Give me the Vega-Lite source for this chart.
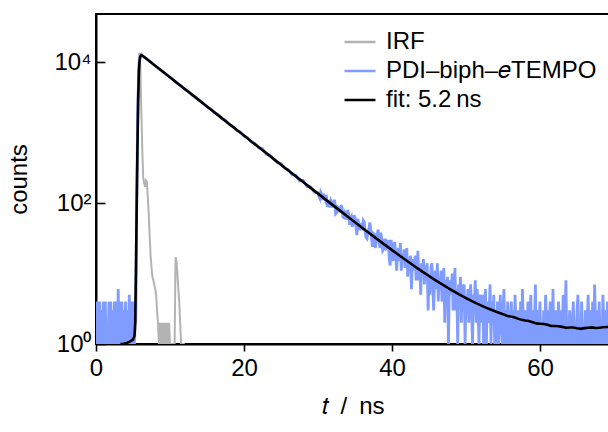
{
  "$schema": "https://vega.github.io/schema/vega-lite/v6.json",
  "width": 513,
  "height": 330,
  "autosize": "none",
  "padding": {"left": 96, "top": 14, "right": 0, "bottom": 88},
  "datasets": {
    "irf": [
      {"t":5.0,"c":0},{"t":5.25,"c":0},{"t":5.375,"c":2},{"t":5.5,"c":160},{"t":5.625,"c":2600},{"t":5.75,"c":9500},{"t":5.875,"c":13600},{"t":6.0,"c":8000},{"t":6.125,"c":2000},{"t":6.25,"c":600},{"t":6.375,"c":230},{"t":6.5,"c":195},{"t":6.625,"c":170},{"t":6.75,"c":210},{"t":6.875,"c":200},{"t":7.0,"c":120},{"t":7.125,"c":70},{"t":7.25,"c":35},{"t":7.375,"c":18},{"t":7.5,"c":12},{"t":7.625,"c":9},{"t":7.75,"c":8},{"t":7.875,"c":7},{"t":8.0,"c":6},{"t":8.125,"c":5},{"t":8.25,"c":3},{"t":8.375,"c":2},{"t":8.5,"c":0},{"t":8.625,"c":2},{"t":8.75,"c":0},{"t":8.875,"c":2},{"t":9.0,"c":0},{"t":9.125,"c":2},{"t":9.25,"c":0},{"t":9.375,"c":2},{"t":9.5,"c":0},{"t":9.625,"c":2},{"t":9.75,"c":0},{"t":9.875,"c":2},{"t":10.0,"c":0},{"t":10.5,"c":0},{"t":10.625,"c":0},{"t":10.75,"c":17},{"t":10.875,"c":15},{"t":11.0,"c":10},{"t":11.125,"c":6},{"t":11.25,"c":4},{"t":11.375,"c":2},{"t":11.5,"c":1},{"t":11.625,"c":0},{"t":12.0,"c":0}
    ],
    "dec": [
      {"t":0,"c":4},{"t":0.125,"c":0},{"t":0.25,"c":4},{"t":0.375,"c":1},{"t":0.5,"c":4},{"t":0.625,"c":0},{"t":0.75,"c":3},{"t":0.875,"c":0},{"t":1,"c":4},{"t":1.125,"c":1},{"t":1.25,"c":4},{"t":1.375,"c":0},{"t":1.5,"c":2},{"t":1.625,"c":0},{"t":1.75,"c":4},{"t":1.875,"c":1},{"t":2,"c":4},{"t":2.125,"c":0},{"t":2.25,"c":3},{"t":2.375,"c":0},{"t":2.5,"c":4},{"t":2.625,"c":1},{"t":2.75,"c":4},{"t":2.875,"c":0},{"t":3,"c":6},{"t":3.125,"c":0},{"t":3.25,"c":4},{"t":3.375,"c":1},{"t":3.5,"c":4},{"t":3.625,"c":0},{"t":3.75,"c":3},{"t":3.875,"c":0},{"t":4,"c":4},{"t":4.125,"c":1},{"t":4.25,"c":3},{"t":4.375,"c":0},{"t":4.5,"c":5},{"t":4.625,"c":0},{"t":4.75,"c":4},{"t":4.875,"c":1},{"t":5,"c":4},{"t":5.125,"c":0},{"t":5.25,"c":4},{"t":5.375,"c":2},
      {"t":5.5,"c":95},{"t":5.625,"c":1500},{"t":5.75,"c":6000},{"t":5.875,"c":10800},{"t":6,"c":12600},{"t":6.125,"c":12900},{"t":6.25,"c":12300},
      {"t":6.5,"c":11830},{"t":7,"c":10700},{"t":7.5,"c":9790},{"t":8,"c":8850},{"t":8.5,"c":8090},{"t":9,"c":7310},{"t":9.5,"c":6700},{"t":10,"c":6040},{"t":10.5,"c":5540},{"t":11,"c":4990},{"t":11.5,"c":4580},{"t":12,"c":4120},{"t":12.5,"c":3790},{"t":13,"c":3400},{"t":13.5,"c":3140},{"t":14,"c":2810},{"t":14.5,"c":2600},{"t":15,"c":2310},{"t":15.5,"c":2160},{"t":16,"c":1905},{"t":16.5,"c":1790},{"t":17,"c":1570},{"t":17.5,"c":1480},{"t":18,"c":1300},{"t":18.5,"c":1225},{"t":19,"c":1070},{"t":19.5,"c":1020},{"t":20,"c":890},{"t":20.5,"c":840},{"t":21,"c":735},{"t":21.5,"c":690},{"t":22,"c":610},{"t":22.5,"c":590},{"t":23,"c":490},{"t":23.5,"c":478},{"t":24,"c":418},{"t":24.5,"c":372},{"t":25,"c":362},{"t":25.5,"c":309},{"t":26,"c":296},{"t":26.5,"c":250},{"t":27,"c":248},{"t":27.5,"c":206},{"t":28,"c":210},{"t":28.5,"c":172},{"t":29,"c":170},{"t":29.5,"c":142},
      {"t":30,"c":140},{"t":30.125,"c":124},{"t":30.25,"c":116},{"t":30.375,"c":143},{"t":30.5,"c":134},{"t":30.625,"c":110},{"t":30.75,"c":136},{"t":30.875,"c":118},{"t":31,"c":109},{"t":31.125,"c":130},{"t":31.25,"c":88},{"t":31.375,"c":100},{"t":31.5,"c":104},{"t":31.625,"c":86},{"t":31.75,"c":109},{"t":31.875,"c":103},{"t":32,"c":86},{"t":32.125,"c":102},{"t":32.25,"c":111},{"t":32.375,"c":70},{"t":32.5,"c":72},{"t":32.625,"c":88},{"t":32.75,"c":86},{"t":32.875,"c":77},{"t":33,"c":77},{"t":33.125,"c":94},{"t":33.25,"c":86},{"t":33.375,"c":63},{"t":33.5,"c":62},{"t":33.625,"c":72},{"t":33.75,"c":67},{"t":33.875,"c":58},{"t":34,"c":80},{"t":34.125,"c":71},{"t":34.25,"c":49},{"t":34.375,"c":60},{"t":34.5,"c":64},{"t":34.625,"c":46},{"t":34.75,"c":51},{"t":34.875,"c":67},{"t":35,"c":62},{"t":35.125,"c":47},{"t":35.25,"c":35},{"t":35.375,"c":60},{"t":35.5,"c":51},{"t":35.625,"c":41},{"t":35.75,"c":52},{"t":35.875,"c":47},{"t":36,"c":41},{"t":36.125,"c":56},{"t":36.25,"c":53},{"t":36.375,"c":38},{"t":36.5,"c":32},{"t":36.625,"c":31},{"t":36.75,"c":39},{"t":36.875,"c":43},{"t":37,"c":53},{"t":37.125,"c":43},{"t":37.25,"c":30},{"t":37.375,"c":24},{"t":37.5,"c":37},{"t":37.625,"c":36},{"t":37.75,"c":23},{"t":37.875,"c":30},{"t":38,"c":36},{"t":38.125,"c":42},{"t":38.25,"c":28},{"t":38.375,"c":23},{"t":38.5,"c":38},{"t":38.625,"c":30},{"t":38.75,"c":21},{"t":38.875,"c":22},{"t":39,"c":30},{"t":39.125,"c":30},{"t":39.25,"c":23},{"t":39.375,"c":24},{"t":39.5,"c":30},{"t":39.625,"c":16},{"t":39.75,"c":13},{"t":39.875,"c":30},
      {"t":40,"c":23},{"t":40.125,"c":15},{"t":40.25,"c":25},{"t":40.375,"c":28},{"t":40.5,"c":18},{"t":40.625,"c":11},{"t":40.75,"c":20},{"t":40.875,"c":23},{"t":41,"c":15},{"t":41.125,"c":27},{"t":41.25,"c":11},{"t":41.375,"c":19},{"t":41.5,"c":16},{"t":41.625,"c":22},{"t":41.75,"c":12},{"t":41.875,"c":16},{"t":42,"c":23},{"t":42.125,"c":9},{"t":42.25,"c":17},{"t":42.375,"c":12},{"t":42.5,"c":18},{"t":42.625,"c":6},{"t":42.75,"c":14},{"t":42.875,"c":16},{"t":43,"c":11},{"t":43.125,"c":18},{"t":43.25,"c":8},{"t":43.375,"c":12},{"t":43.5,"c":21},{"t":43.625,"c":8},{"t":43.75,"c":13},{"t":43.875,"c":5},{"t":44,"c":14},{"t":44.125,"c":10},{"t":44.25,"c":16},{"t":44.375,"c":7},{"t":44.5,"c":13},{"t":44.625,"c":9},{"t":44.75,"c":14},{"t":44.875,"c":3},{"t":45,"c":10},{"t":45.125,"c":5},{"t":45.25,"c":12},{"t":45.375,"c":14},{"t":45.5,"c":8},{"t":45.625,"c":3},{"t":45.75,"c":9},{"t":45.875,"c":11},{"t":46,"c":6},{"t":46.125,"c":14},{"t":46.25,"c":4},{"t":46.375,"c":9},{"t":46.5,"c":7},{"t":46.625,"c":11},{"t":46.75,"c":4},{"t":46.875,"c":7},{"t":47,"c":12},{"t":47.125,"c":2},{"t":47.25,"c":8},{"t":47.375,"c":5},{"t":47.5,"c":9},{"t":47.625,"c":1},{"t":47.75,"c":7},{"t":47.875,"c":8},{"t":48,"c":5},{"t":48.125,"c":10},{"t":48.25,"c":3},{"t":48.375,"c":6},{"t":48.5,"c":12},{"t":48.625,"c":3},{"t":48.75,"c":6},{"t":48.875,"c":1},{"t":49,"c":7},{"t":49.125,"c":5},{"t":49.25,"c":9},{"t":49.375,"c":2},{"t":49.5,"c":7},{"t":49.625,"c":4},{"t":49.75,"c":7},{"t":49.875,"c":0},
      {"t":50,"c":5},{"t":50.125,"c":3},{"t":50.25,"c":6},{"t":50.375,"c":2},{"t":50.5,"c":4},{"t":50.625,"c":7},{"t":50.75,"c":3},{"t":50.875,"c":1},{"t":51,"c":5},{"t":51.125,"c":4},{"t":51.25,"c":8},{"t":51.375,"c":2},{"t":51.5,"c":6},{"t":51.625,"c":3},{"t":51.75,"c":0},{"t":51.875,"c":5},
      {"t":52,"c":4},{"t":52.125,"c":2},{"t":52.25,"c":5},{"t":52.375,"c":1},{"t":52.5,"c":3},{"t":52.625,"c":6},{"t":52.75,"c":0},{"t":52.875,"c":4},{"t":53,"c":2},{"t":53.125,"c":3},{"t":53.25,"c":7},{"t":53.375,"c":1},{"t":53.5,"c":4},{"t":53.625,"c":2},{"t":53.75,"c":5},{"t":53.875,"c":1},
      {"t":54,"c":3},{"t":54.125,"c":1},{"t":54.25,"c":4},{"t":54.375,"c":0},{"t":54.5,"c":2},{"t":54.625,"c":5},{"t":54.75,"c":2},{"t":54.875,"c":1},{"t":55,"c":3},{"t":55.125,"c":6},{"t":55.25,"c":0},{"t":55.375,"c":3},{"t":55.5,"c":1},{"t":55.625,"c":4},{"t":55.75,"c":2},{"t":55.875,"c":0},
      {"t":56,"c":2},{"t":56.125,"c":4},{"t":56.25,"c":1},{"t":56.375,"c":3},{"t":56.5,"c":0},{"t":56.625,"c":5},{"t":56.75,"c":2},{"t":56.875,"c":1},{"t":57,"c":3},{"t":57.125,"c":2},{"t":57.25,"c":0},{"t":57.375,"c":4},{"t":57.5,"c":1},{"t":57.625,"c":6},{"t":57.75,"c":2},{"t":57.875,"c":1},
      {"t":58,"c":3},{"t":58.125,"c":0},{"t":58.25,"c":2},{"t":58.375,"c":4},{"t":58.5,"c":1},{"t":58.625,"c":2},{"t":58.75,"c":5},{"t":58.875,"c":0},{"t":59,"c":3},{"t":59.125,"c":1},{"t":59.25,"c":2},{"t":59.375,"c":7},{"t":59.5,"c":1},{"t":59.625,"c":3},{"t":59.75,"c":0},{"t":59.875,"c":2},
      {"t":60,"c":4},{"t":60.125,"c":1},{"t":60.25,"c":2},{"t":60.375,"c":0},{"t":60.5,"c":3},{"t":60.625,"c":1},{"t":60.75,"c":5},{"t":60.875,"c":2},{"t":61,"c":0},{"t":61.125,"c":3},{"t":61.25,"c":1},{"t":61.375,"c":4},{"t":61.5,"c":2},{"t":61.625,"c":1},{"t":61.75,"c":6},{"t":61.875,"c":0},
      {"t":62,"c":2},{"t":62.125,"c":3},{"t":62.25,"c":1},{"t":62.375,"c":0},{"t":62.5,"c":4},{"t":62.625,"c":2},{"t":62.75,"c":1},{"t":62.875,"c":3},{"t":63,"c":0},{"t":63.125,"c":5},{"t":63.25,"c":1},{"t":63.375,"c":2},{"t":63.5,"c":8},{"t":63.625,"c":0},{"t":63.75,"c":2},{"t":63.875,"c":1},
      {"t":64,"c":3},{"t":64.125,"c":1},{"t":64.25,"c":0},{"t":64.375,"c":2},{"t":64.5,"c":4},{"t":64.625,"c":1},{"t":64.75,"c":2},{"t":64.875,"c":0},{"t":65,"c":3},{"t":65.125,"c":5},{"t":65.25,"c":1},{"t":65.375,"c":2},{"t":65.5,"c":0},{"t":65.625,"c":4},{"t":65.75,"c":1},{"t":65.875,"c":2},
      {"t":66,"c":1},{"t":66.125,"c":3},{"t":66.25,"c":0},{"t":66.375,"c":2},{"t":66.5,"c":5},{"t":66.625,"c":1},{"t":66.75,"c":3},{"t":66.875,"c":0},{"t":67,"c":2},{"t":67.125,"c":4},{"t":67.25,"c":1},{"t":67.375,"c":7},{"t":67.5,"c":2},{"t":67.625,"c":0},{"t":67.75,"c":3},{"t":67.875,"c":1},
      {"t":68,"c":4},{"t":68.125,"c":0},{"t":68.25,"c":2},{"t":68.375,"c":1},{"t":68.5,"c":5},{"t":68.625,"c":2},{"t":68.75,"c":0},{"t":68.875,"c":3},{"t":69,"c":1},{"t":69.125,"c":4},{"t":69.25,"c":2},{"t":69.375,"c":0},{"t":69.5,"c":3}
    ],
    "fit": [
      {"t":3.3,"c":0.98},{"t":3.6,"c":1.0},{"t":4,"c":1.02},{"t":4.5,"c":1.07},{"t":5,"c":1.15},{"t":5.2,"c":1.3},{"t":5.3,"c":2},{"t":5.4,"c":12},{"t":5.5,"c":90},{"t":5.6,"c":600},{"t":5.7,"c":2800},{"t":5.8,"c":7500},{"t":5.9,"c":10800},{"t":6,"c":12000},{"t":6.1,"c":12400},{"t":6.2,"c":12450},{"t":6.5,"c":11800},{"t":7,"c":10735},{"t":8,"c":8874},{"t":9,"c":7335},{"t":10,"c":6063},{"t":11,"c":5012},{"t":12,"c":4143},{"t":13,"c":3425},{"t":14,"c":2831},{"t":15,"c":2341},{"t":16,"c":1935},{"t":17,"c":1600},{"t":18,"c":1322},{"t":19,"c":1093},{"t":20,"c":904},{"t":21,"c":747.4},{"t":22,"c":618},{"t":23,"c":511.1},{"t":24,"c":422.7},{"t":25,"c":349.7},{"t":26,"c":289.3},{"t":27,"c":239.4},{"t":28,"c":198.1},{"t":29,"c":164},{"t":30,"c":135.8},{"t":31,"c":112.5},{"t":32,"c":93.26},{"t":33,"c":77.35},{"t":34,"c":64.19},{"t":35,"c":53.32},{"t":36,"c":44.33},{"t":37,"c":36.9},{"t":38,"c":30.76},{"t":39,"c":25.69},{"t":40,"c":21.49},{"t":41,"c":18.03},{"t":42,"c":15.16},{"t":43,"c":12.79},{"t":44,"c":10.83},{"t":45,"c":9.21},{"t":46,"c":7.88},{"t":47,"c":6.77},{"t":48,"c":5.86},{"t":49,"c":5.1},{"t":50,"c":4.48},{"t":51,"c":3.96},{"t":52,"c":3.53},{"t":53,"c":3.18},{"t":54,"c":2.89},{"t":55,"c":2.65},{"t":55.5,"c":2.52},{"t":56,"c":2.45},{"t":56.5,"c":2.4},{"t":57,"c":2.29},{"t":57.5,"c":2.2},{"t":58,"c":2.15},{"t":58.5,"c":2.12},{"t":59,"c":2.04},{"t":59.5,"c":1.96},{"t":60,"c":1.94},{"t":60.5,"c":1.92},{"t":61,"c":1.87},{"t":61.5,"c":1.8},{"t":62,"c":1.8},{"t":62.5,"c":1.79},{"t":63,"c":1.75},{"t":63.5,"c":1.7},{"t":64,"c":1.71},{"t":64.5,"c":1.71},{"t":65,"c":1.67},{"t":65.5,"c":1.64},{"t":66,"c":1.68},{"t":66.5,"c":1.7},{"t":67,"c":1.72},{"t":67.5,"c":1.69},{"t":68,"c":1.7},{"t":68.5,"c":1.73},{"t":69,"c":1.74},{"t":69.5,"c":1.75}
    ]
  },
  "encoding": {
    "x": {
      "field": "t", "type": "quantitative",
      "scale": {"domain": [0, 69.32], "nice": false, "zero": false},
      "axis": {"values": [0, 20, 40, 60], "title": "\ud835\udc61\u2002/\u2002ns", "tickSize": 7, "labelPadding": 5, "titlePadding": 14}
    },
    "y": {
      "field": "c", "type": "quantitative",
      "scale": {"type": "log", "domain": [1, 47970], "nice": false, "clamp": true},
      "axis": {"values": [1, 100, 10000], "labelExpr": "datum.value == 1 ? '10\u2070' : datum.value == 100 ? '10\u00b2' : '10\u2074'", "title": "counts", "tickSize": -9, "labelPadding": 14, "titlePadding": 22}
    }
  },
  "layer": [
    {
      "data": {"name": "irf"},
      "mark": {"type": "line", "strokeWidth": 2, "clip": true},
      "encoding": {"color": {"datum": "IRF", "type": "nominal",
        "scale": {"domain": ["IRF", "PDI\u2013biph\u2013\ud835\udc52TEMPO", "fit: 5.2\u2009ns"], "range": ["#b3b3b3", "#809cff", "#000000"]},
        "legend": {"title": null, "orient": "none", "legendX": 247, "legendY": 16, "symbolType": "stroke", "symbolSize": 961, "symbolStrokeWidth": 2.5, "labelFontSize": 24, "labelOffset": 9, "rowPadding": 5, "clipHeight": 24, "padding": 0, "labelLimit": 400, "labelColor": "#000"}}}
    },
    {
      "data": {"name": "dec"},
      "mark": {"type": "line", "strokeWidth": 2.8, "clip": true},
      "encoding": {"color": {"datum": "PDI\u2013biph\u2013\ud835\udc52TEMPO", "type": "nominal"}}
    },
    {
      "data": {"name": "fit"},
      "mark": {"type": "line", "strokeWidth": 2.6, "clip": true},
      "encoding": {"color": {"datum": "fit: 5.2\u2009ns", "type": "nominal"}}
    }
  ],
  "config": {
    "font": "Liberation Sans",
    "view": {"stroke": "#000", "strokeWidth": 2},
    "axis": {
      "grid": false, "zindex": 1,
      "domainColor": "#000", "domainWidth": 2,
      "tickColor": "#000", "tickWidth": 1.6,
      "labelFontSize": 24, "labelColor": "#000", "labelFont": "Liberation Sans",
      "titleFontSize": 24, "titleColor": "#000", "titleFont": "Liberation Sans", "titleFontWeight": "normal",
      "labelFlush": false, "labelOverlap": false
    },
    "legend": {"labelFont": "Liberation Sans"}
  }
}
